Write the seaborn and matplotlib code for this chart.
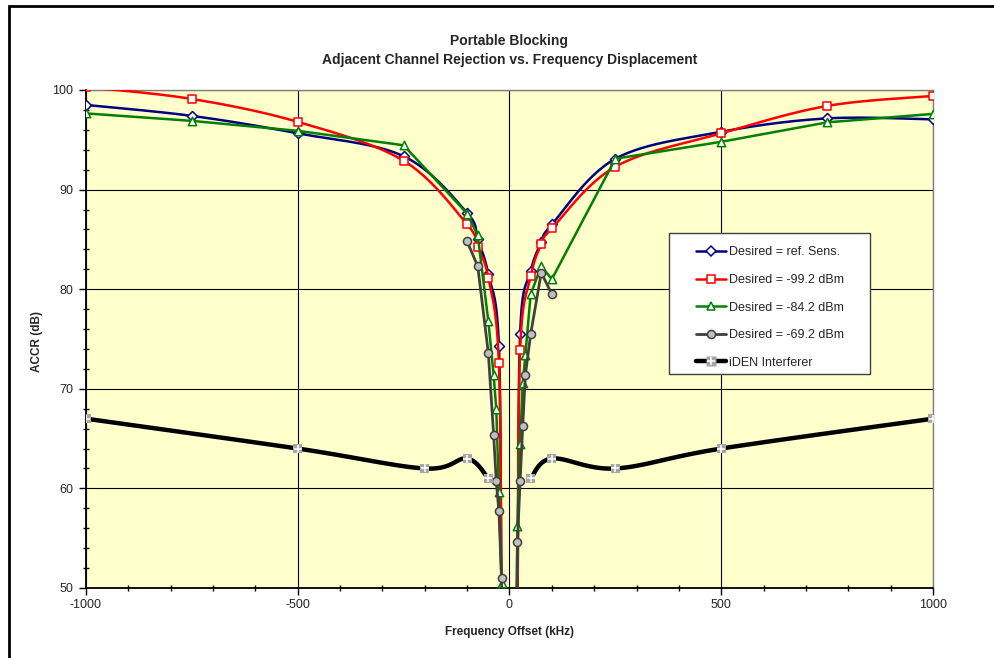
import numpy as np
import matplotlib
matplotlib.use("Agg")
import matplotlib.pyplot as plt
from matplotlib.lines import Line2D
from matplotlib.patches import Rectangle
from matplotlib.ticker import MultipleLocator
from matplotlib.legend_handler import HandlerTuple
import seaborn as sns

# ---- data (offset in kHz, ACCR in dB) ----
x_ref = [-1000, -750, -500, -250, -100, -75, -50, -25, -18.75, -12.5,
         12.5, 18.75, 25, 50, 75, 100, 250, 500, 750, 1000]
acr_ref = [98.5, 97.4, 95.65, 93.35, 87.65, 85.0, 81.5, 74.3, 48, 30,
           30, 48, 75.5, 81.8, 84.7, 86.5, 93.1, 95.8, 97.15, 97.05]

x_992 = x_ref
acr_992 = [100.3, 99.1, 96.8, 92.9, 86.5, 84.2, 81.15, 72.55, 47, 30,
           30, 48, 73.9, 81.3, 84.5, 86.1, 92.3, 95.65, 98.4, 99.4]

x_842 = [-1000, -750, -500, -250, -100, -75, -50, -37.5, -31.25, -25, -18.75, -12.5,
         12.5, 18.75, 25, 31.25, 37.5, 50, 75, 100, 250, 500, 750, 1000]
acr_842 = [97.65, 96.9, 95.9, 94.45, 87.6, 85.4, 76.8, 71.4, 68.0, 59.6, 50.5, 30,
           30, 56.2, 64.5, 70.55, 73.4, 79.5, 82.3, 81.0, 93.1, 94.8, 96.75, 97.6]

x_692 = [-100, -75, -50, -37.5, -31.25, -25, -18.75, -12.5,
         12.5, 18.75, 25, 31.25, 37.5, 50, 75, 100]
acr_692 = [84.8, 82.3, 73.6, 65.4, 60.7, 57.7, 51.0, 30,
           30, 54.65, 60.7, 66.3, 71.4, 75.5, 81.65, 79.5]

# iDEN interferer has no value around 0, so it is two pieces
x_iden_lo = [-1000, -500, -200, -100, -50]
iden_lo = [67.0, 64.0, 62.0, 63.0, 61.0]
x_iden_hi = [50, 100, 250, 500, 1000]
iden_hi = [61.0, 63.0, 62.0, 64.0, 67.0]

labels = ["Desired = ref. Sens.", "Desired = -99.2 dBm", "Desired = -84.2 dBm",
          "Desired = -69.2 dBm", "iDEN Interferer"]

sns.set_style("white")
plt.rcParams["font.family"] = ["Liberation Sans", "DejaVu Sans"]
plt.rcParams["axes.unicode_minus"] = False

W, H = 995, 658
L, R, T, B = 86, 933, 90, 588
fig = plt.figure(figsize=(W / 100, H / 100), dpi=100)
ax = fig.add_axes([L / W, 1 - B / H, (R - L) / W, (B - T) / H])
ax.set_facecolor("#FFFFCC")

SX = (R - L) / 2000.0
SY = (B - T) / 50.0


def smooth(xs, ys):
    # excel-like smoothed line (bezier through the points), done in pixel space
    P = np.column_stack([np.asarray(xs, float) * SX, np.asarray(ys, float) * SY])
    n = len(P)
    t = np.linspace(0, 1, 30)[1:, None]
    out = [P[0]]
    for i in range(n - 1):
        p0 = P[i - 1] if i > 0 else P[i]
        p3 = P[i + 2] if i + 2 < n else P[i + 1]
        c1 = P[i] + (P[i + 1] - p0) / 6
        c2 = P[i + 1] - (p3 - P[i]) / 6
        seg = ((1 - t) ** 3) * P[i] + 3 * ((1 - t) ** 2) * t * c1 \
            + 3 * (1 - t) * t ** 2 * c2 + t ** 3 * P[i + 1]
        out.extend(seg)
    out = np.array(out)
    return out[:, 0] / SX, out[:, 1] / SY


# (x, y, colour, marker, marker face, marker size, line width, smoothed?)
series = [
    (x_ref, acr_ref, "#000080", "D", "white", 26, 1.8, True),
    (x_992, acr_992, "#FF0000", "s", "white", 36, 1.8, True),
    (x_842, acr_842, "#008000", "^", "white", 36, 1.8, False),
    (x_692, acr_692, "#404040", "o", "#C0C0C0", 34, 2.0, False),
]

handles = []
for k, (xs, ys, col, mk, fc, s, lw, smoothed) in enumerate(series):
    sx, sy = smooth(xs, ys) if smoothed else (xs, ys)
    sns.lineplot(x=sx, y=sy, sort=False, estimator=None, color=col, lw=lw,
                 ax=ax, zorder=3 + k)
    sns.scatterplot(x=xs, y=ys, marker=mk, s=s, color=fc, edgecolor=col,
                    linewidth=1.1, ax=ax, zorder=3.5 + k)
    handles.append(Line2D([], [], color=col, lw=lw, marker=mk, ms=np.sqrt(s),
                          mfc=fc, mec=col, mew=1.1))

for xs, ys in [(x_iden_lo, iden_lo), (x_iden_hi, iden_hi)]:
    sx, sy = smooth(xs, ys)
    sns.lineplot(x=sx, y=sy, sort=False, estimator=None, color="black", lw=3.2,
                 ax=ax, zorder=8)
    sns.scatterplot(x=xs, y=ys, marker="s", s=44, color="#A6A6A6",
                    edgecolor="none", ax=ax, zorder=8.5)
    sns.scatterplot(x=xs, y=ys, marker="+", s=36, color="white",
                    linewidth=1.1, ax=ax, zorder=8.6)
handles.append((Line2D([], [], color="black", lw=3.2, marker="s", ms=6.6,
                       mfc="#A6A6A6", mec="none"),
                Line2D([], [], ls="none", marker="+", ms=6, color="white", mew=1.1)))

ax.set_xlim(-1000, 1000)
ax.set_ylim(50, 100)
ax.xaxis.set_major_locator(MultipleLocator(500))
ax.xaxis.set_minor_locator(MultipleLocator(100))
ax.yaxis.set_major_locator(MultipleLocator(10))
ax.yaxis.set_minor_locator(MultipleLocator(2))
ax.grid(True, which="major", color="black", lw=0.8)
ax.set_axisbelow(True)
ax.tick_params(which="both", bottom=True, left=True, color="black", width=1)
ax.tick_params(which="major", direction="out", length=5, labelsize=9, pad=3)
ax.tick_params(axis="y", which="major", pad=4)
ax.tick_params(which="minor", direction="inout", length=5)

for side in ["left", "bottom"]:
    ax.spines[side].set_color("black")
    ax.spines[side].set_linewidth(1.3)
for side in ["top", "right"]:
    ax.spines[side].set_color("#808080")
    ax.spines[side].set_linewidth(1.0)

ax.set_xlabel("Frequency Offset (kHz)", fontsize=8.5, fontweight="bold")
ax.set_ylabel("ACCR (dB)", fontsize=8.5, fontweight="bold")
ax.xaxis.set_label_coords(0.5, (B - 626) / (B - T), transform=ax.transAxes)
ax.yaxis.set_label_coords((43 - L) / (R - L), 1 - (341 - T) / (B - T),
                          transform=ax.transAxes)

cx = (L + R) / 2 / W
fig.text(cx, 1 - 45 / H, "Portable Blocking", ha="center", va="baseline",
         fontsize=10, fontweight="bold")
fig.text(cx, 1 - 64 / H, "Adjacent Channel Rejection vs. Frequency Displacement",
         ha="center", va="baseline", fontsize=10, fontweight="bold")

# legend box drawn by hand so the padding matches
box = Rectangle((669 / W, 1 - 374 / H), 201 / W, 141 / H, transform=fig.transFigure,
                facecolor="white", edgecolor="#404040", lw=1, zorder=20, clip_on=False)
ax.add_patch(box)
leg = ax.legend(handles, labels, loc="upper left", bbox_to_anchor=(690 / W, 1 - 240 / H),
                bbox_transform=fig.transFigure, frameon=False, borderpad=0,
                handlelength=2.4, handletextpad=0.2, labelspacing=1.25, fontsize=9,
                handler_map={tuple: HandlerTuple(ndivide=1)})
leg.set_zorder(21)

# outer chart border (only top and left edges are inside the picture)
fig.patches.append(Rectangle((8.5 / W, -0.5), 1.5, 0.5 + 1 - 5.5 / H,
                             transform=fig.transFigure, fill=False,
                             edgecolor="black", lw=2))

fig.savefig("out.png", dpi=100)
